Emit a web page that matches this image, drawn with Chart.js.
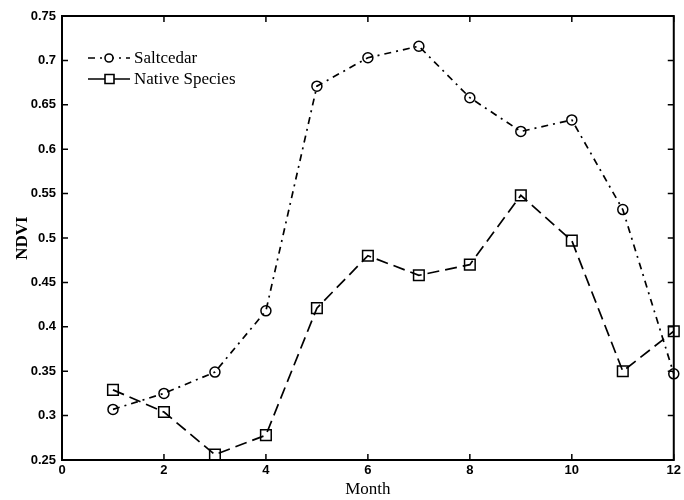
<!DOCTYPE html>
<html>
<head>
<meta charset="utf-8">
<script src="https://cdn.jsdelivr.net/npm/chart.js@4.4.1/dist/chart.umd.min.js"></script>
<style>
  body { margin: 0; background: #fff; }
  #wrap { width: 684px; height: 500px; }
</style>
</head>
<body>
<div id="wrap"><canvas id="ndviChart"></canvas></div>
<script>
const months = [1, 2, 3, 4, 5, 6, 7, 8, 9, 10, 11, 12];
const saltcedar = [0.307, 0.325, 0.349, 0.418, 0.671, 0.703, 0.716, 0.658, 0.62, 0.633, 0.532, 0.347];
const nativeSpecies = [0.329, 0.304, 0.256, 0.278, 0.421, 0.48, 0.458, 0.47, 0.548, 0.497, 0.35, 0.395];
const xTicks = ["0", "2", "4", "6", "8", "10", "12"];
const yTicks = ["0.25", "0.3", "0.35", "0.4", "0.45", "0.5", "0.55", "0.6", "0.65", "0.7", "0.75"];

const saltDash = [7, 5, 2, 5];
const nativeDash = [12, 6];

// box around the plot with inward ticks on all four sides
const boxPlugin = {
  id: "box",
  afterDraw(chart) {
    const ctx = chart.ctx;
    const a = chart.chartArea;
    const x = chart.scales.x;
    const y = chart.scales.y;
    ctx.save();
    ctx.strokeStyle = "#000";
    ctx.lineWidth = 2;
    ctx.strokeRect(a.left, a.top, a.right - a.left, a.bottom - a.top);
    ctx.lineWidth = 1.5;
    ctx.beginPath();
    x.ticks.forEach(function (t) {
      const px = x.getPixelForValue(t.value);
      ctx.moveTo(px, a.bottom); ctx.lineTo(px, a.bottom - 6);
      ctx.moveTo(px, a.top); ctx.lineTo(px, a.top + 6);
    });
    y.ticks.forEach(function (t) {
      const py = y.getPixelForValue(t.value);
      ctx.moveTo(a.left, py); ctx.lineTo(a.left + 6, py);
      ctx.moveTo(a.right, py); ctx.lineTo(a.right - 6, py);
    });
    ctx.stroke();

    // legend
    const items = [
      { label: "Saltcedar", dash: saltDash, style: "circle" },
      { label: "Native Species", dash: [], style: "rect" },
    ];
    ctx.font = "17px 'Liberation Serif'";
    ctx.textBaseline = "middle";
    ctx.fillStyle = "#000";
    items.forEach(function (it, i) {
      const ly = 58 + i * 21;
      ctx.lineWidth = 1.6;
      ctx.setLineDash(it.dash);
      ctx.beginPath();
      ctx.moveTo(88, ly); ctx.lineTo(130, ly);
      ctx.stroke();
      ctx.setLineDash([]);
      ctx.beginPath();
      if (it.style === "circle") {
        ctx.arc(109, ly, 4, 0, Math.PI * 2);
      } else {
        ctx.rect(105, ly - 4.5, 9, 9);
      }
      ctx.fillStyle = "#fff";
      ctx.fill();
      ctx.stroke();
      ctx.fillStyle = "#000";
      ctx.fillText(it.label, 134, ly + 1);
    });
    ctx.restore();
  },
};

const ctx = document.getElementById("ndviChart").getContext("2d");
const ndviChart = new Chart(ctx, {
  type: "line",
  data: {
    datasets: [
      {
        label: "Saltcedar",
        data: months.map((m, i) => ({ x: m, y: saltcedar[i] })),
        borderColor: "#000",
        borderWidth: 1.7,
        borderDash: saltDash,
        pointStyle: "circle",
        pointRadius: 5,
        pointBorderWidth: 1.5,
        pointBorderColor: "#000",
        pointBackgroundColor: "rgba(255,255,255,0)",
        tension: 0,
      },
      {
        label: "Native Species",
        data: months.map((m, i) => ({ x: m, y: nativeSpecies[i] })),
        borderColor: "#000",
        borderWidth: 1.7,
        borderDash: nativeDash,
        pointStyle: "rect",
        pointRadius: 7.5,
        pointBorderWidth: 1.5,
        pointBorderColor: "#000",
        pointBackgroundColor: "rgba(255,255,255,0)",
        tension: 0,
      },
    ],
  },
  options: {
    responsive: true,
    maintainAspectRatio: false,
    animation: false,
    clip: false,
    layout: {
      padding: { left: 0, top: 16, right: 9, bottom: 0 },
    },
    scales: {
      x: {
        type: "linear",
        min: 0,
        max: 12,
        afterFit: function (scale) {
          scale.height = 40;
        },
        ticks: {
          stepSize: 2,
          padding: 3,
          color: "#000",
          font: { family: "'Liberation Sans'", size: 13, weight: "bold" },
          callback: function (value, index) {
            return xTicks[index];
          },
        },
        grid: { display: false, drawTicks: false, tickLength: 0 },
        border: { display: false },
        title: {
          display: true,
          text: "Month",
          color: "#000",
          padding: { top: 0, bottom: 0 },
          font: { family: "'Liberation Serif'", size: 17 },
        },
      },
      y: {
        min: 0.25,
        max: 0.75,
        afterFit: function (scale) {
          scale.width = 62;
        },
        ticks: {
          stepSize: 0.05,
          padding: 6,
          color: "#000",
          font: { family: "'Liberation Sans'", size: 13, weight: "bold" },
          callback: function (value, index) {
            return yTicks[index];
          },
        },
        grid: { display: false, drawTicks: false, tickLength: 0 },
        border: { display: false },
        title: {
          display: true,
          text: "NDVI",
          color: "#000",
          padding: { top: 12, bottom: 0 },
          font: { family: "'Liberation Serif'", size: 17, weight: "bold" },
        },
      },
    },
    plugins: {
      legend: { display: false },
      tooltip: { enabled: false },
    },
  },
  plugins: [boxPlugin],
});
</script>
</body>
</html>
